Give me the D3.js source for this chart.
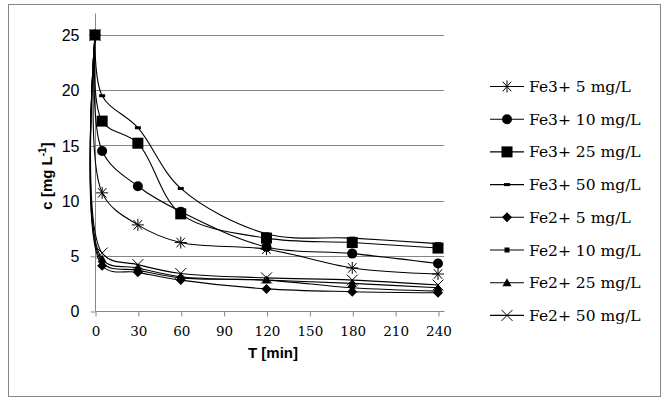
<!DOCTYPE html>
<html>
<head>
<meta charset="utf-8">
<script src="https://cdn.jsdelivr.net/npm/d3@7"></script>
<style>
  body { margin: 0; background: #fff; }
</style>
</head>
<body>
<div id="chart"></div>
<script>
// time points (min)
const times = [0, 5, 30, 60, 120, 180, 240];

// concentrations
const fe3_5  = [25, 10.7, 7.8, 6.2, 5.6, 3.9, 3.35];
const fe3_10 = [25, 14.5, 11.3, 9.0, 5.8, 5.2, 4.3];
const fe3_25 = [25, 17.2, 15.2, 8.8, 6.6, 6.2, 5.7];
const fe3_50 = [25, 19.5, 16.6, 11.1, 7.0, 6.6, 6.1];
const fe2_5  = [25, 4.1, 3.5, 2.8, 2.0, 1.75, 1.65];
const fe2_10 = [25, 4.4, 3.7, 3.0, 2.8, 2.1, 1.8];
const fe2_25 = [25, 4.7, 3.9, 3.1, 2.8, 2.5, 2.1];
const fe2_50 = [25, 5.25, 4.2, 3.4, 3.0, 2.8, 2.35];

const seriesNames = ["Fe3+ 5 mg/L", "Fe3+ 10 mg/L", "Fe3+ 25 mg/L", "Fe3+ 50 mg/L",
                     "Fe2+ 5 mg/L", "Fe2+ 10 mg/L", "Fe2+ 25 mg/L", "Fe2+ 50 mg/L"];
const seriesData = [fe3_5, fe3_10, fe3_25, fe3_50, fe2_5, fe2_10, fe2_25, fe2_50];
const markerKinds = ["asterisk", "circle", "square", "dash", "diamond", "smallsquare", "triangle", "cross"];

const xTicks = [0, 30, 60, 90, 120, 150, 180, 210, 240];
const yTicks = [0, 5, 10, 15, 20, 25];

const serifFont = "'DejaVu Serif', 'Liberation Serif', serif";
const sansFont = "'Liberation Sans', Arial, sans-serif";

const W = 668, H = 405;
const svg = d3.select("#chart").append("svg")
  .attr("width", W).attr("height", H);

// outer frame
svg.append("rect")
  .attr("x", 8.5).attr("y", 4.5)
  .attr("width", 652).attr("height", 392)
  .attr("fill", "#fff").attr("stroke", "#868686").attr("stroke-width", 1);

const x = d3.scaleLinear().domain([0, 240]).range([95, 438]);
const y = d3.scaleLinear().domain([0, 25]).range([311, 35]);
const gridRight = 444;

// gridlines
svg.append("g").selectAll("line")
  .data(yTicks.filter(d => d > 0))
  .join("line")
  .attr("x1", 95).attr("x2", gridRight)
  .attr("y1", d => Math.round(y(d)) + 0.5).attr("y2", d => Math.round(y(d)) + 0.5)
  .attr("stroke", "#868686").attr("stroke-width", 1);

// y axis
const yAxis = svg.append("g")
  .attr("transform", "translate(95.5,0.5)")
  .call(d3.axisLeft(y).tickValues(yTicks).tickSize(5).tickSizeOuter(0).tickPadding(11));
yAxis.select(".domain").attr("stroke", "#868686").attr("d", `M0,${y(0)}V${y(25) - 22}`);
yAxis.selectAll(".tick line").attr("stroke", "#868686");
yAxis.selectAll("text")
  .style("font-family", sansFont)
  .style("font-size", "16px").attr("fill", "#000");

// x axis
const xAxis = svg.append("g")
  .attr("transform", `translate(0.5,${Math.round(y(0)) + 0.5})`)
  .call(d3.axisBottom(x).tickValues(xTicks).tickSize(5).tickSizeOuter(0).tickPadding(10));
xAxis.select(".domain").attr("stroke", "#868686").attr("d", `M${x(0)},0H${gridRight}`);
xAxis.selectAll(".tick line").attr("stroke", "#868686");
xAxis.selectAll("text")
  .style("font-family", serifFont)
  .style("font-size", "13.5px").attr("fill", "#000");

// axis titles
svg.append("text")
  .style("font-family", sansFont)
  .attr("x", 273).attr("y", 358)
  .attr("text-anchor", "middle")
  .style("font-weight", "bold").style("font-size", "15px")
  .text("T [min]");

const yTitle = svg.append("text")
  .style("font-family", sansFont)
  .attr("transform", "translate(52,176) rotate(-90)")
  .attr("text-anchor", "middle")
  .style("font-weight", "bold").style("font-size", "15px");
yTitle.append("tspan").text("c [mg L");
yTitle.append("tspan").style("font-size", "10px").attr("dy", -6).text("-1");
yTitle.append("tspan").attr("dy", 6).text("]");

// markers
function drawMarker(g, kind, cx, cy) {
  if (kind === "asterisk") {
    const r = 6;
    g.append("path")
      .attr("d", `M${cx - r},${cy}H${cx + r}M${cx - r * 0.7},${cy - r * 0.8}L${cx + r * 0.7},${cy + r * 0.8}M${cx - r * 0.7},${cy + r * 0.8}L${cx + r * 0.7},${cy - r * 0.8}M${cx},${cy - r}V${cy + r}`)
      .attr("stroke", "#000").attr("stroke-width", 1).attr("fill", "none");
  } else if (kind === "circle") {
    g.append("circle").attr("cx", cx).attr("cy", cy).attr("r", 5).attr("fill", "#000");
  } else if (kind === "square") {
    g.append("rect").attr("x", cx - 5.5).attr("y", cy - 5.5).attr("width", 11).attr("height", 11).attr("fill", "#000");
  } else if (kind === "dash") {
    g.append("rect").attr("x", cx - 3).attr("y", cy - 1.5).attr("width", 6).attr("height", 3).attr("fill", "#000");
  } else if (kind === "diamond") {
    const r = 5;
    g.append("path").attr("d", `M${cx},${cy - r}L${cx + r},${cy}L${cx},${cy + r}L${cx - r},${cy}Z`).attr("fill", "#000");
  } else if (kind === "smallsquare") {
    g.append("rect").attr("x", cx - 2.5).attr("y", cy - 2.5).attr("width", 5).attr("height", 5).attr("fill", "#000");
  } else if (kind === "triangle") {
    g.append("path").attr("d", `M${cx},${cy - 4.5}L${cx + 4.5},${cy + 3.5}L${cx - 4.5},${cy + 3.5}Z`).attr("fill", "#000");
  } else if (kind === "cross") {
    const r = 5.5;
    g.append("path")
      .attr("d", `M${cx - r},${cy - r}L${cx + r},${cy + r}M${cx - r},${cy + r}L${cx + r},${cy - r}`)
      .attr("stroke", "#000").attr("stroke-width", 1).attr("fill", "none");
  }
}

const line = d3.line()
  .x((d, i) => x(times[i]))
  .y(d => y(d))
  .curve(d3.curveCatmullRom.alpha(0.5));

const plot = svg.append("g");
seriesData.forEach((vals, k) => {
  plot.append("path")
    .datum(vals)
    .attr("d", line)
    .attr("fill", "none")
    .attr("stroke", "#000")
    .attr("stroke-width", 1.1);
});
seriesData.forEach((vals, k) => {
  const g = plot.append("g");
  vals.forEach((v, i) => drawMarker(g, markerKinds[k], x(times[i]), y(v)));
});

// legend
const legend = svg.append("g");
seriesNames.forEach((name, k) => {
  const ly = 86.5 + k * 32.7;
  const g = legend.append("g");
  g.append("line")
    .attr("x1", 490).attr("x2", 524).attr("y1", ly).attr("y2", ly)
    .attr("stroke", "#000").attr("stroke-width", 1.1);
  drawMarker(g, markerKinds[k], 507, ly);
  g.append("text")
    .style("font-family", serifFont)
    .attr("x", 529).attr("y", ly + 5.5)
    .style("font-size", "15.5px")
    .text(name);
});
</script>
</body>
</html>
